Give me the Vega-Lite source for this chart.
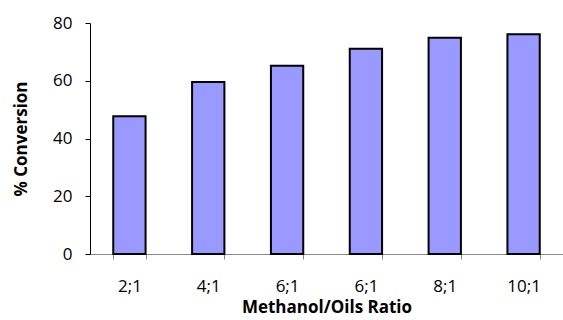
{
  "$schema": "https://vega.github.io/schema/vega-lite/v6.json",
  "width": 473,
  "height": 231,
  "autosize": "none",
  "padding": {"left": 90, "top": 23, "right": 0, "bottom": 66},
  "background": "white",
  "data": {
    "values": [
      {"idx": 1, "ratio": "2;1", "conversion": 47.7},
      {"idx": 2, "ratio": "4;1", "conversion": 59.6},
      {"idx": 3, "ratio": "6;1", "conversion": 65.2},
      {"idx": 4, "ratio": "6;1", "conversion": 71.1},
      {"idx": 5, "ratio": "8;1", "conversion": 74.9},
      {"idx": 6, "ratio": "10;1", "conversion": 76.1}
    ]
  },
  "mark": {"type": "bar", "fill": "#9999FF", "stroke": "#000000", "strokeWidth": 2},
  "encoding": {
    "x": {
      "field": "idx",
      "type": "ordinal",
      "scale": {"paddingInner": 0.59, "paddingOuter": 0.295},
      "axis": {
        "title": "Methanol/Oils Ratio",
        "labelExpr": "['','2;1','4;1','6;1','6;1','8;1','10;1'][datum.value]",
        "labelAngle": 0,
        "tickBand": "extent",
        "tickSize": 5,
        "tickColor": "#888888",
        "domainColor": "#888888",
        "labelFont": "Open Sans",
        "labelFontSize": 17,
        "labelColor": "#000000",
        "labelPadding": 19,
        "titleFont": "Open Sans",
        "titleFontSize": 17,
        "titleFontWeight": "bold",
        "titleColor": "#000000",
        "titlePadding": 5
      }
    },
    "y": {
      "field": "conversion",
      "type": "quantitative",
      "scale": {"domain": [0, 80]},
      "axis": {
        "title": "% Conversion",
        "values": [0, 20, 40, 60, 80],
        "grid": false,
        "tickSize": 5,
        "tickColor": "#000000",
        "domainColor": "#000000",
        "labelFont": "Open Sans",
        "labelFontSize": 17,
        "labelColor": "#000000",
        "labelPadding": 13,
        "titleFont": "Open Sans",
        "titleFontSize": 17,
        "titleFontWeight": "bold",
        "titleColor": "#000000",
        "titlePadding": 22
      }
    }
  },
  "config": {"view": {"stroke": null}}
}
